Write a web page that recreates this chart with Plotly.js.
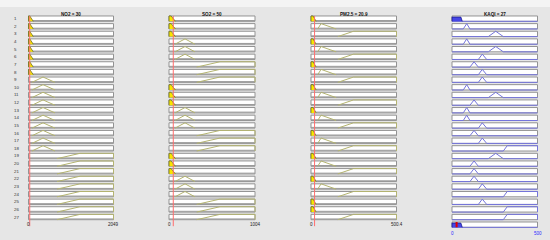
<!DOCTYPE html>
<html><head><meta charset="utf-8">
<script src="https://cdn.plot.ly/plotly-3.0.1.min.js"></script>
<style>html,body{margin:0;padding:0;background:#e6e6e6}</style>
</head><body><div id="chart" style="width:550px;height:240px"></div>
<script>
// ---- data ----
const inputNames = ['NO2', 'SO2', 'PM2.5'];
const inputValues = [30, 50, 20.9];
const inputMax = [2049, 1004, 500.4];
const outputName = 'KAQI';
const outputValue = 27;
const outputMax = 500;
// trapezoid membership functions [a, b, c, d]
const no2MFs = [[0, 0, 30, 115], [84, 350, 350, 639], [687, 1241, 2049, 2049]];
const so2MFs = [[0, 0, 25, 75], [70, 187, 187, 303], [323, 595, 1004, 1004]];
const pm25MFs = [[0, 0, 12, 30], [39, 59, 59, 147], [157, 249, 500.4, 500.4]];
const kaqiMFs = [[0, 0, 50, 60], [66, 86, 86, 105], [105, 129, 129, 154], [154, 177, 177, 203], [212, 256, 256, 300], [300, 323, 500, 500]];
// rule table (MF index per rule)
const ruleNO2  = [1,1,1,1,1,1,1,1,2,2,2,2,2,2,2,2,2,2,3,3,3,3,3,3,3,3,3];
const ruleSO2  = [1,1,1,2,2,2,3,3,3,1,1,1,2,2,2,3,3,3,1,1,1,2,2,2,3,3,3];
const rulePM25 = [1,2,3,1,2,3,1,2,3,1,2,3,1,2,3,1,2,3,1,2,3,1,2,3,1,1,3];
const ruleKAQI = [1,2,5,2,5,4,3,4,4,2,5,3,2,2,4,3,4,6,5,3,3,3,4,6,4,6,6];
const ruleFiring = [0.8,0,0,0,0,0,0,0,0,0,0,0,0,0,0,0,0,0,0,0,0,0,0,0,0,0,0];

// ---- layout settings ----
const W = 550, Hpx = 240;
const rowTopPx = 18.65, rowStepPx = 7.63;   // row centre / spacing in pixels
const H = 0.7;                                // box height in row units
const colPx = [[28.5, 113.5], [169, 255], [311, 396.5], [452, 537.5]];
const nRules = ruleKAQI.length;

function mu(mf, v) {
  const [a, b, c, d] = mf;
  if (v < a || v > d) return 0;
  if (v >= b && v <= c) return 1;
  if (v < b) return (v - a) / (b - a);
  return (d - v) / (d - c);
}
function ry(r, m) { return r + H / 2 - H * m; }

const yTopVal = 1 - rowTopPx / rowStepPx;
const yBotVal = 1 + (Hpx - rowTopPx) / rowStepPx;

const traces = [], shapes = [], annotations = [];
const layout = {
  width: W, height: Hpx, margin: {l: 0, r: 0, t: 0, b: 0},
  paper_bgcolor: '#e6e6e6', plot_bgcolor: 'rgba(0,0,0,0)', showlegend: false,
  yaxis: {domain: [0, 1], range: [yBotVal, yTopVal], visible: false, anchor: 'x'},
  shapes, annotations
};
const font = 'Liberation Sans, Arial, sans-serif';

function setupAxis(k, max) {
  const [p0, p1] = colPx[k];
  const pad = 1.5;
  const perPx = max / (p1 - p0);
  const key = k === 0 ? 'xaxis' : 'xaxis' + (k + 1);
  layout[key] = {domain: [(p0 - pad) / W, (p1 + pad) / W], range: [-pad * perPx, max + pad * perPx],
    visible: false, anchor: 'y'};
  return k === 0 ? 'x' : 'x' + (k + 1);
}

// top light band
shapes.push({type: 'rect', xref: 'paper', yref: 'paper', x0: 0, x1: 1, y0: 1 - 7 / Hpx, y1: 1,
  fillcolor: '#f4f4f4', line: {width: 0}, layer: 'below'});

const allMFs = [no2MFs, so2MFs, pm25MFs];
const allRules = [ruleNO2, ruleSO2, rulePM25];

for (let k = 0; k < 3; k++) {
  const ax = setupAxis(k, inputMax[k]);
  const lx = [], ly = [], fx = [], fy = [];
  for (let r = 1; r <= nRules; r++) {
    shapes.push({type: 'rect', xref: ax, yref: 'y', x0: 0, x1: inputMax[k], y0: r - H / 2, y1: r + H / 2,
      fillcolor: '#ffffff', line: {color: '#939393', width: 1}, layer: 'below'});
    shapes.push({type: 'line', xref: ax, yref: 'y', x0: 0, x1: inputMax[k], y0: r + H / 2 - 0.1, y1: r + H / 2 - 0.1,
      line: {color: '#9a9a9a', width: 1}, layer: 'below'});
    const mf = allMFs[k][allRules[k][r - 1] - 1];
    const xs = [mf[0], mf[1], mf[2], mf[3]], ms = [0, 1, 1, 0];
    const fired = mu(mf, inputValues[k]) > 0;
    for (let i = 0; i < 4; i++) {
      if (fired) { fx.push(xs[i]); fy.push(ry(r, ms[i])); }
      else { lx.push(xs[i]); ly.push(ry(r, ms[i])); }
    }
    if (fired) { fx.push(null); fy.push(null); } else { lx.push(null); ly.push(null); }
  }
  traces.push({x: lx, y: ly, xaxis: ax, yaxis: 'y', mode: 'lines', line: {color: '#b4b470', width: 1}, hoverinfo: 'skip'});
  traces.push({x: fx, y: fy, xaxis: ax, yaxis: 'y', mode: 'lines', fill: 'toself', fillcolor: '#f7e600',
    line: {color: '#6e6e24', width: 0.8}, hoverinfo: 'skip'});
  traces.push({x: [inputValues[k], inputValues[k]], y: [1 - H / 2, nRules + 1.2], xaxis: ax, yaxis: 'y',
    mode: 'lines', line: {color: '#ff6e6e', width: 1}, hoverinfo: 'skip'});
  annotations.push({xref: ax, yref: 'paper', x: inputMax[k] / 2, y: 1 - 10.3 / Hpx, showarrow: false,
    text: '<b>' + inputNames[k] + ' = ' + inputValues[k] + '</b>', font: {family: font, size: 4.6, color: '#111'}});
  annotations.push({xref: ax, yref: 'y', x: 0, y: nRules + 1, showarrow: false, text: '0',
    font: {family: font, size: 4.5, color: '#222'}});
  annotations.push({xref: ax, yref: 'y', x: inputMax[k], y: nRules + 1, showarrow: false, text: String(inputMax[k]),
    font: {family: font, size: 4.5, color: '#222'}});
}

// output column
{
  const ax = setupAxis(3, outputMax);
  const lx = [], ly = [], fx = [], fy = [];
  for (let r = 1; r <= nRules + 1; r++) {
    shapes.push({type: 'rect', xref: ax, yref: 'y', x0: 0, x1: outputMax, y0: r - H / 2, y1: r + H / 2,
      fillcolor: '#ffffff', line: {color: '#939393', width: 1}, layer: 'below'});
  }
  for (let r = 1; r <= nRules; r++) {
    const mf = kaqiMFs[ruleKAQI[r - 1] - 1];
    const s = ruleFiring[r - 1];
    if (s > 0) {
      lx.push(0, outputMax, null); ly.push(ry(r, 0), ry(r, 0), null);
      const poly = [[mf[0], 0], [mf[0] + (mf[1] - mf[0]) * s, s], [mf[3] - (mf[3] - mf[2]) * s, s], [mf[3], 0]];
      for (const rr of [r, nRules + 1]) {
        poly.forEach(p => { fx.push(p[0]); fy.push(ry(rr, p[1])); });
        fx.push(null); fy.push(null);
      }
    } else {
      const xs = [0, mf[0], mf[1], mf[2], mf[3], outputMax], ms = [0, 0, 1, 1, 0, 0];
      xs.forEach((x, i) => { lx.push(x); ly.push(ry(r, ms[i])); });
      lx.push(null); ly.push(null);
    }
  }
  lx.push(0, outputMax, null); ly.push(ry(nRules + 1, 0), ry(nRules + 1, 0), null);
  traces.push({x: lx, y: ly, xaxis: ax, yaxis: 'y', mode: 'lines', line: {color: '#7474dc', width: 1}, hoverinfo: 'skip'});
  traces.push({x: fx, y: fy, xaxis: ax, yaxis: 'y', mode: 'lines', fill: 'toself', fillcolor: '#4646e6',
    line: {color: '#1c1c90', width: 0.8}, hoverinfo: 'skip'});
  traces.push({x: [outputValue, outputValue], y: [nRules + 1 - H / 2, nRules + 1 + H / 2], xaxis: ax, yaxis: 'y',
    mode: 'lines', line: {color: '#e00000', width: 2}, hoverinfo: 'skip'});
  annotations.push({xref: ax, yref: 'paper', x: outputMax / 2, y: 1 - 10.3 / Hpx, showarrow: false,
    text: '<b>' + outputName + ' = ' + outputValue + '</b>', font: {family: font, size: 4.6, color: '#111'}});
  annotations.push({xref: ax, yref: 'y', x: 0, y: nRules + 2.1, showarrow: false, text: '0',
    font: {family: font, size: 4.5, color: '#2a2aff'}});
  annotations.push({xref: ax, yref: 'y', x: outputMax, y: nRules + 2.1, showarrow: false, text: String(outputMax),
    font: {family: font, size: 4.5, color: '#2a2aff'}});
}

// rule numbers
for (let r = 1; r <= nRules; r++) {
  annotations.push({xref: 'paper', yref: 'y', x: 12 / W, y: r, showarrow: false, text: String(r),
    font: {family: font, size: 4.4, color: '#333'}});
}

Plotly.newPlot('chart', traces, layout, {staticPlot: true, displayModeBar: false});
</script></body></html>
